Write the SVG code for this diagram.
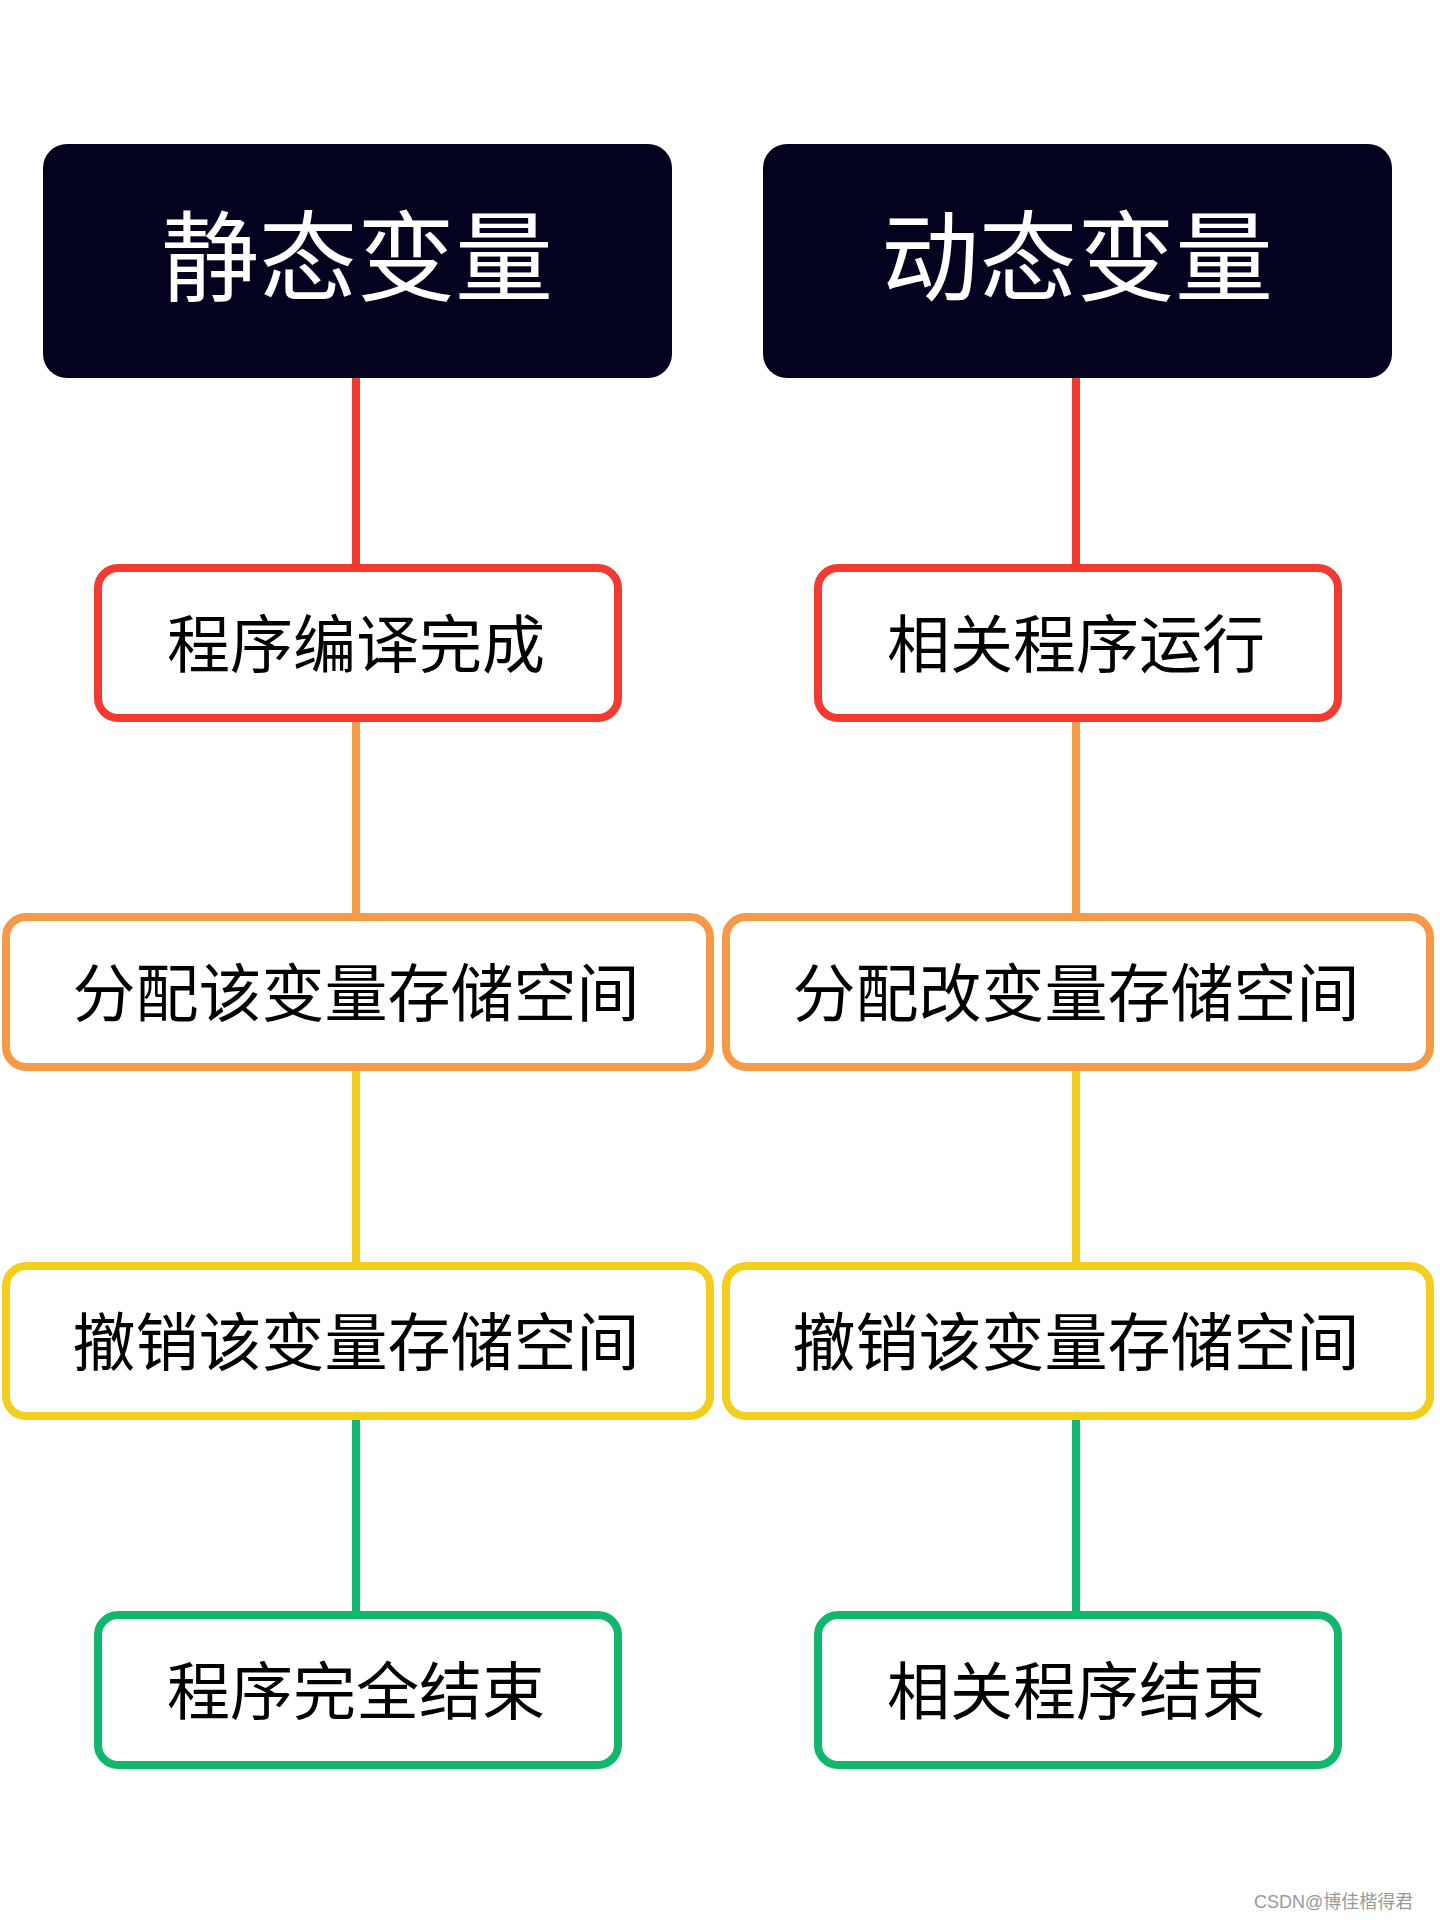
<svg xmlns="http://www.w3.org/2000/svg" width="1440" height="1920" viewBox="0 0 1440 1920">
<style>
.hdr{fill:#03021f;}
.hdrt{fill:#ffffff;font-family:"Noto Sans CJK SC","Noto Sans",sans-serif;font-size:98px;text-anchor:middle;dominant-baseline:central;}
.box{fill:#ffffff;stroke-width:8;}
.t{fill:#000000;font-family:"Noto Sans CJK SC","Noto Sans",sans-serif;font-size:63px;text-anchor:middle;dominant-baseline:central;}
.red{stroke:#f23b30;}
.org{stroke:#f59a46;}
.yel{stroke:#f2cf1f;}
.grn{stroke:#12b76e;}
.c{stroke-width:8;fill:none;}
.wm{fill:#9a9a9a;font-family:"Liberation Sans","Noto Sans CJK SC",sans-serif;font-size:18px;}
</style>
<rect width="1440" height="1920" fill="#ffffff"/>
<g id="connectors">
<line class="c red" x1="356" y1="378" x2="356" y2="568"/>
<line class="c org" x1="356" y1="718" x2="356" y2="917"/>
<line class="c yel" x1="356" y1="1067" x2="356" y2="1266"/>
<line class="c grn" x1="356" y1="1416" x2="356" y2="1615"/>
<line class="c red" x1="1076" y1="378" x2="1076" y2="568"/>
<line class="c org" x1="1076" y1="718" x2="1076" y2="917"/>
<line class="c yel" x1="1076" y1="1067" x2="1076" y2="1266"/>
<line class="c grn" x1="1076" y1="1416" x2="1076" y2="1615"/>
</g>
<g id="static-header">
<rect class="hdr" x="43" y="144" width="629" height="234" rx="24"/>
<text class="hdrt" x="357" y="250">静态变量</text>
</g>
<g id="dynamic-header">
<rect class="hdr" x="763" y="144" width="629" height="234" rx="24"/>
<text class="hdrt" x="1077" y="250">动态变量</text>
</g>
<g id="s1">
<rect class="box red" x="98" y="568" width="520" height="150" rx="20"/>
<text class="t" x="356" y="639">程序编译完成</text>
</g>
<g id="d1">
<rect class="box red" x="818" y="568" width="520" height="150" rx="20"/>
<text class="t" x="1076" y="639">相关程序运行</text>
</g>
<g id="s2">
<rect class="box org" x="6" y="917" width="704" height="150" rx="20"/>
<text class="t" x="356" y="988">分配该变量存储空间</text>
</g>
<g id="d2">
<rect class="box org" x="726" y="917" width="704" height="150" rx="20"/>
<text class="t" x="1076" y="988">分配改变量存储空间</text>
</g>
<g id="s3">
<rect class="box yel" x="6" y="1266" width="704" height="150" rx="20"/>
<text class="t" x="356" y="1337">撤销该变量存储空间</text>
</g>
<g id="d3">
<rect class="box yel" x="726" y="1266" width="704" height="150" rx="20"/>
<text class="t" x="1076" y="1337">撤销该变量存储空间</text>
</g>
<g id="s4">
<rect class="box grn" x="98" y="1615" width="520" height="150" rx="20"/>
<text class="t" x="356" y="1686">程序完全结束</text>
</g>
<g id="d4">
<rect class="box grn" x="818" y="1615" width="520" height="150" rx="20"/>
<text class="t" x="1076" y="1686">相关程序结束</text>
</g>
<text class="wm" x="1254" y="1908">CSDN@博佳楷得君</text>
</svg>
